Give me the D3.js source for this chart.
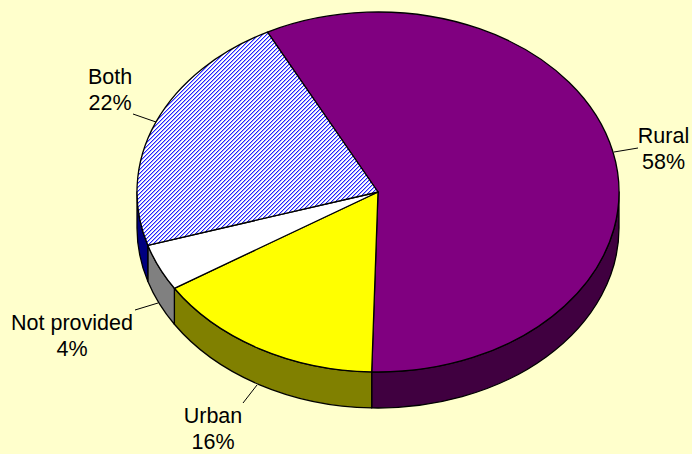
<!DOCTYPE html>
<html><head><meta charset="utf-8">
<script src="https://cdn.jsdelivr.net/npm/d3@7"></script>
<style>html,body{margin:0;padding:0;background:#FFFFCC}svg{display:block}</style></head>
<body><svg id="c" width="692" height="454"></svg>
<script>
const categories = ["Rural","Urban","Not provided","Both"];
const values = [58.0,15.6,4.2,22.2];
const topColors = ["#800080","#FFFF00","#FFFFFF","url(#hatch)"];
const sideColors = ["#400040","#808000","#808080","#000080"];
const labelAnchors = [[663.5,143],[213,423],[72,330],[110,84]];
const leaderEnds = [[[638,148],[614,152]],[[243,403],[257,385]],[[135,310],[158,303]],[[133,114],[156,122]]];

const cx=378, cy=192, rx=241, ry=180, depth=36;
const svg=d3.select("#c");
const defs=svg.append("defs");
const p=defs.append("pattern").attr("id","hatch").attr("patternUnits","userSpaceOnUse").attr("width",4).attr("height",4);
p.append("rect").attr("width",4).attr("height",4).attr("fill","#fff");
d3.range(16).forEach(k=>{const px=k%4,py=Math.floor(k/4),m=(px+py)%4;
  if(m<2) p.append("rect").attr("x",px).attr("y",py).attr("width",1).attr("height",1).attr("fill",m==0?"#2020FF":"#A8A8FF").attr("shape-rendering","crispEdges");});

const start=-27.3*Math.PI/180;
const pie=d3.pie().sort(null).startAngle(start).endAngle(start+2*Math.PI);
const arcs=pie(values);
const x=d3.scaleLinear().domain([-1,1]).range([cx-rx,cx+rx]);
const y=d3.scaleLinear().domain([-1,1]).range([cy-ry,cy+ry]);
const pt=a=>[x(Math.sin(a)),y(-Math.cos(a))];
const A=(a,sweep)=>{const q=pt(a);return `A${rx},${ry} 0 0 ${sweep} ${q[0]},${q[1]}`;};
const g=svg.append("g").attr("stroke","#000").attr("stroke-width",1.3).attr("stroke-linejoin","round");

const lo=Math.PI/2, hi=3*Math.PI/2;
arcs.forEach((d,i)=>{
  const ranges=[[d.startAngle,d.endAngle],[d.startAngle+2*Math.PI,d.endAngle+2*Math.PI],[d.startAngle-2*Math.PI,d.endAngle-2*Math.PI]];
  ranges.forEach(r=>{
    const a0=Math.max(r[0],lo), a1=Math.min(r[1],hi);
    if(a1<=a0) return;
    const s=pt(a0), e=pt(a1);
    g.append("path").attr("fill",sideColors[i])
     .attr("d",`M${s[0]},${s[1]}${A(a1,1)}L${e[0]},${e[1]+depth}A${rx},${ry} 0 0 0 ${s[0]},${s[1]+depth}Z`);
  });
});
arcs.forEach((d,i)=>{
  const s=pt(d.startAngle), large=(d.endAngle-d.startAngle)>Math.PI?1:0, e=pt(d.endAngle);
  g.append("path").attr("fill",topColors[i])
   .attr("d",`M${cx},${cy}L${s[0]},${s[1]}A${rx},${ry} 0 ${large} 1 ${e[0]},${e[1]}Z`);
});
leaderEnds.forEach(l=>svg.append("line").attr("x1",l[0][0]).attr("y1",l[0][1]).attr("x2",l[1][0]).attr("y2",l[1][1]).attr("stroke","#000").attr("stroke-width",1));
categories.forEach((c,i)=>{
  const t=svg.append("text").attr("text-anchor","middle").attr("font-family","Liberation Sans, Arial, sans-serif").attr("font-size",21.5).attr("fill","#000");
  t.append("tspan").attr("x",labelAnchors[i][0]).attr("y",labelAnchors[i][1]).text(c);
  t.append("tspan").attr("x",labelAnchors[i][0]).attr("y",labelAnchors[i][1]+26).text(Math.round(values[i])+"%");
});
</script></body></html>
